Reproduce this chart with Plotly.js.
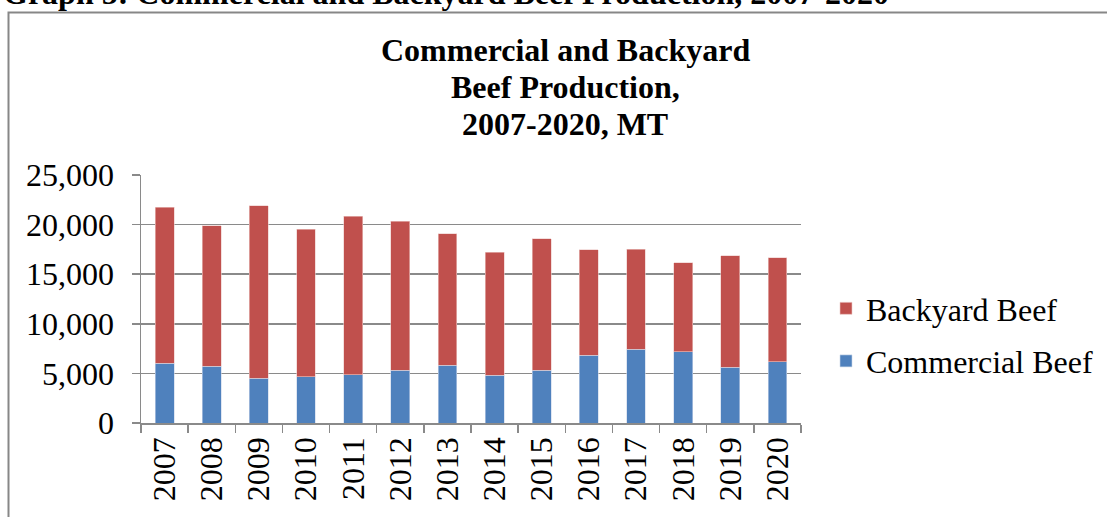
<!DOCTYPE html>
<html>
<head>
<meta charset="utf-8">
<script src="https://cdn.plot.ly/plotly-3.0.1.min.js"></script>
<style>
  html, body { margin: 0; padding: 0; background: #ffffff; }
  #chart { width: 1107px; height: 517px; }
</style>
</head>
<body>
<div id="chart"></div>
<script>
const years = ["2007","2008","2009","2010","2011","2012","2013","2014","2015","2016","2017","2018","2019","2020"];
const commercialBeef = [6000, 5700, 4500, 4650, 4850, 5300, 5800, 4800, 5300, 6850, 7450, 7200, 5600, 6200];
const backyardBeef   = [15750, 14200, 17400, 14900, 16000, 15050, 13300, 12400, 13250, 10600, 10050, 8950, 11250, 10450];
const yTickValues = [0, 5000, 10000, 15000, 20000, 25000];
const yTickLabels = ["0", "5,000", "10,000", "15,000", "20,000", "25,000"];
const chartTitleLines = ["Commercial and Backyard", "Beef Production,", "2007-2020, MT"];
const pageHeading = "Graph 5: Commercial and Backyard Beef Production, 2007-2020";

const FONT = "Liberation Serif, Times New Roman, serif";
const GRID = "#8a8a8a";

// plot area in pixels
const W = 1107, H = 517;
const L = 141, R = 306, T = 175, B = 94;
const pw = W - L - R, ph = H - T - B;
function px(x) { return (x - L) / pw; }
function py(y) { return (H - B - y) / ph; }

const traces = [
  {
    type: "bar", name: "Commercial Beef", x: years, y: commercialBeef,
    marker: { color: "#4F81BD", line: { color: "#c9d6ea", width: 0.6 } },
    legendgroup: "c", legendrank: 2, hoverinfo: "skip"
  },
  {
    type: "bar", name: "Backyard Beef", x: years, y: backyardBeef,
    marker: { color: "#C0504D", line: { color: "#ecc9c8", width: 0.6 } },
    legendgroup: "b", legendrank: 1, hoverinfo: "skip"
  }
];

const titleAnns = chartTitleLines.map((t, i) => ({
  text: "<b>" + t + "</b>", xref: "paper", yref: "paper",
  x: px(565), y: py(50 + i * 37), xanchor: "center", yanchor: "middle",
  showarrow: false, font: { family: FONT, size: 32, color: "#000" }
}));

const layout = {
  width: W, height: H,
  margin: { l: L, r: R, t: T, b: B, pad: 0, autoexpand: false },
  paper_bgcolor: "#ffffff", plot_bgcolor: "#ffffff",
  barmode: "stack", bargap: 0.6,
  font: { family: FONT, size: 32, color: "#000" },
  showlegend: true,
  legend: {
    x: px(826), y: py(335), xanchor: "left", yanchor: "middle",
    traceorder: "grouped", tracegroupgap: 8,
    font: { family: FONT, size: 32, color: "#000" },
    bgcolor: "rgba(0,0,0,0)", itemclick: false
  },
  xaxis: {
    type: "category", tickangle: -90, ticks: "outside", ticklen: 8, tickwidth: 1.5,
    tickcolor: GRID, tickson: "boundaries", showline: true, linecolor: GRID, linewidth: 1.5,
    showgrid: false, tickfont: { family: FONT, size: 32, color: "#000" }
  },
  yaxis: {
    range: [0, 25000], tickvals: yTickValues, ticktext: yTickLabels,
    ticks: "outside", ticklen: 8, tickwidth: 1.5, tickcolor: GRID,
    showline: true, linecolor: GRID, linewidth: 1.5,
    showgrid: true, gridcolor: GRID, gridwidth: 1.5, zeroline: false,
    ticklabelstandoff: 11,
    tickfont: { family: FONT, size: 32, color: "#000" }
  },
  annotations: titleAnns.concat([{
    text: "<b>" + pageHeading + "</b>", xref: "paper", yref: "paper",
    x: px(1), y: py(-7), xanchor: "left", yanchor: "middle",
    showarrow: false, font: { family: FONT, size: 32, color: "#000" }
  }]),
  shapes: [{
    type: "rect", xref: "paper", yref: "paper", layer: "below",
    x0: px(8.5), x1: px(1120), y0: py(540), y1: py(12.5),
    line: { color: "#878787", width: 2 }, fillcolor: "rgba(0,0,0,0)"
  }]
};

Plotly.newPlot("chart", traces, layout, { displayModeBar: false, staticPlot: true });
</script>
</body>
</html>
